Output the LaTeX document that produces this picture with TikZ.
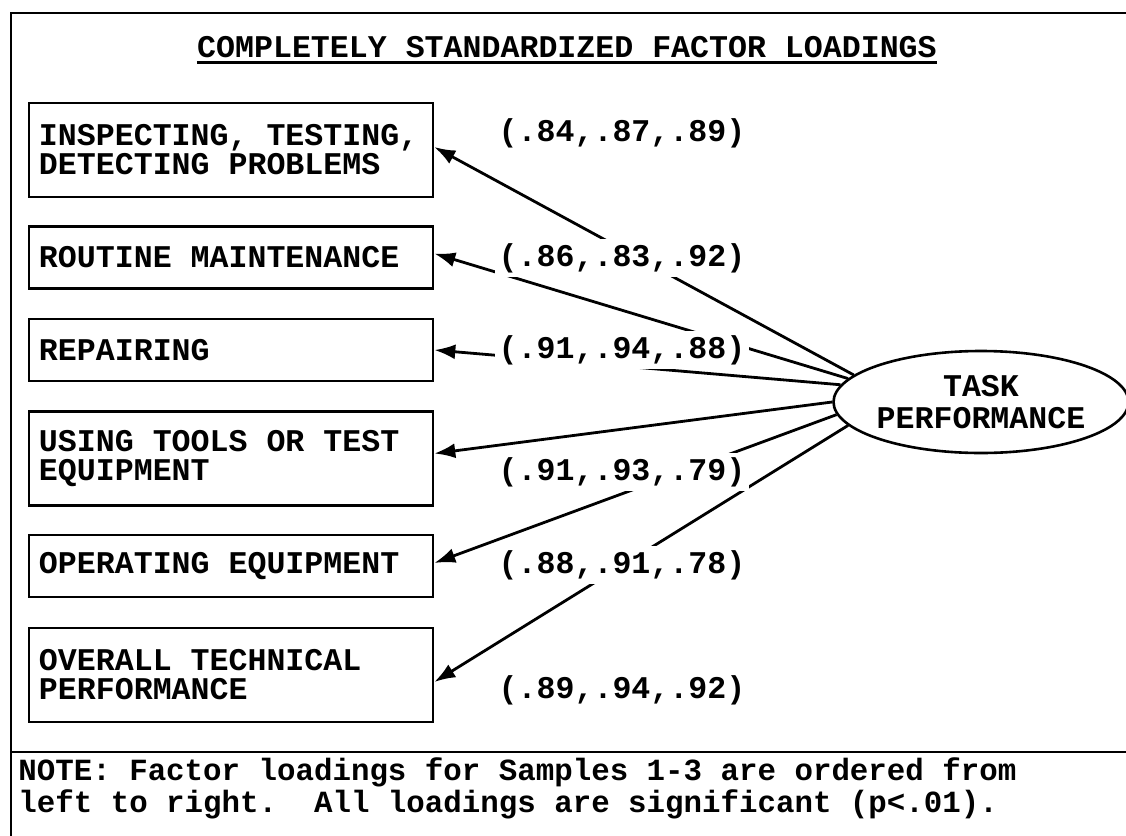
\documentclass[tikz,border=0pt]{standalone}
\usepackage{fontspec}
\setmonofont{Liberation Mono}
\usetikzlibrary{shapes,arrows,arrows.meta,positioning}
\newcommand{\cfont}{\ttfamily\bfseries\fontsize{15.8}{14.5}\selectfont}
\tikzset{
    factor/.style={rectangle, draw, text width=192pt, align=flush left, inner xsep=5pt, minimum height=31pt, font=\cfont, line width=1.3pt},
    twoline/.style={factor, minimum height=47pt},
    latent/.style={draw, ellipse, minimum width=128pt, minimum height=51pt, inner sep=0pt, align=center, font=\cfont, line width=1.3pt},
    loading/.style={fill=white, inner sep=2pt, font=\cfont},
    line/.style={draw, -{Latex[length=10.5pt, width=7.5pt]}, line width=1.4pt},
    frame/.style={line width=1.3pt}
}

\begin{document}
\begin{tikzpicture}[x=0.5pt, y=-0.5pt]
    \useasboundingbox (0,0) rectangle (1126,836);
    \draw [frame] (1126,13) -- (11,13) -- (11,836);
    \draw [frame] (11,752) -- (1126,752);

    \node [inner sep=0pt, font=\cfont] (title) at (567,47) {COMPLETELY STANDARDIZED FACTOR LOADINGS};
    \draw [line width=1.1pt] ([yshift=-2.5pt]title.base west) -- ([yshift=-2.5pt]title.base east);

    \node [twoline] (inspect) at (231,150) {INSPECTING, TESTING,\\DETECTING PROBLEMS};
    \node [factor] (routine) at (231,257.5) {ROUTINE MAINTENANCE};
    \node [factor] (repair) at (231,350) {REPAIRING};
    \node [twoline] (tools) at (231,458.5) {USING TOOLS OR TEST\\EQUIPMENT};
    \node [factor] (operate) at (231,566) {OPERATING EQUIPMENT};
    \node [twoline] (overall) at (231,675) {OVERALL TECHNICAL\\PERFORMANCE};

    \node [latent] (task) at (981,402) {TASK\\[1.5pt]PERFORMANCE};

    \path [line] (task.168) -- ([yshift=1.5pt]inspect.east);
    \path [line] (task.170) -- ([yshift=2pt]routine.east);
    \path [line] (task.173) -- (repair.east);
    \path [line] (task.180) -- ([yshift=2.5pt]tools.east);
    \path [line] (task.185) -- ([yshift=1.5pt]operate.east);
    \path [line] (task.190) -- ([yshift=-3.5pt]overall.east);

    \node [loading] (l1) at (622,133) {(.84,.87,.89)};
    \node [loading] (l2) at (622,258) {(.86,.83,.92)};
    \node [loading] (l3) at (622,350) {(.91,.94,.88)};
    \node [loading] (l4) at (622,472) {(.91,.93,.79)};
    \node [loading] (l5) at (622,565) {(.88,.91,.78)};
    \node [loading] (l6) at (622,690) {(.89,.94,.92)};

    \node [anchor=base west, inner sep=0pt, align=left, font=\ttfamily\bfseries\fontsize{15.4}{13.5}\selectfont] (note) at (18,812)
        {NOTE: Factor loadings for Samples 1-3 are ordered from\\left to right.\ \ All loadings are significant (p<.01).};
\end{tikzpicture}
\end{document}
